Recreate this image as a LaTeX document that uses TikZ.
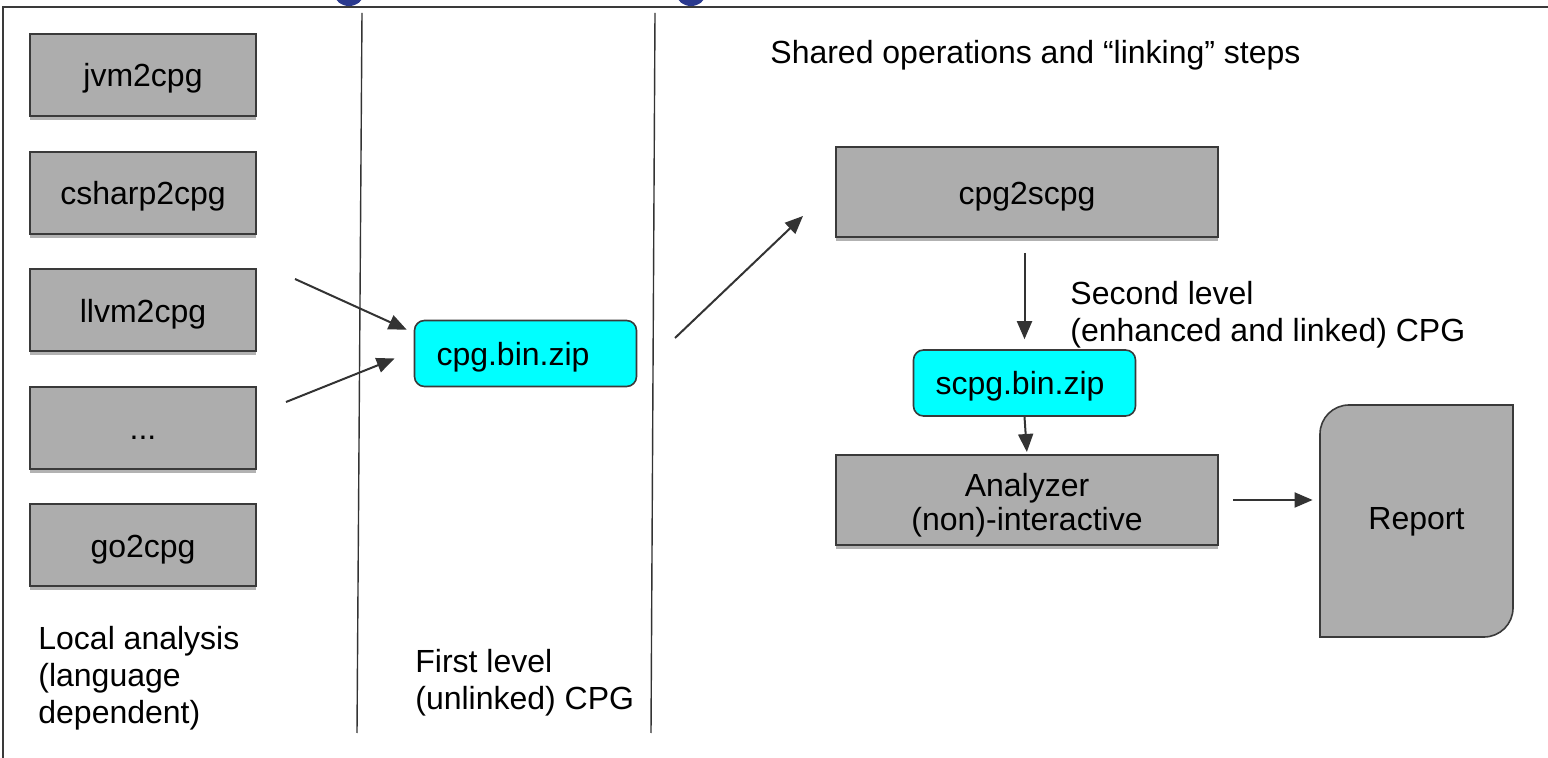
\documentclass[tikz,border=0pt]{standalone}
\usepackage{fontspec}
\setmainfont{Liberation Sans}
\usetikzlibrary{arrows.meta,shadows}
\definecolor{boxgray}{HTML}{ADADAD}
\definecolor{boxline}{HTML}{3A3A3A}
\definecolor{inkline}{HTML}{333333}
\definecolor{filecyan}{HTML}{00FFFF}
\definecolor{titleblue}{HTML}{2B3A8F}
\begin{document}
\begin{tikzpicture}[x=0.5pt,y=-0.5pt,
  font=\fontsize{16pt}{18.5pt}\selectfont,
  toolbox/.style={draw=boxline, fill=boxgray, line width=1pt,
    minimum width=113pt, minimum height=41pt, inner sep=0pt,
    text height=12pt, text depth=0pt,
    drop shadow={shadow xshift=0pt, shadow yshift=-2pt, fill=black, opacity=0.3}},
  widebox/.style={toolbox, minimum width=191pt, minimum height=45pt},
  filebox/.style={draw=boxline, fill=filecyan, line width=0.8pt, rounded corners=5pt,
    minimum height=33pt, inner xsep=11pt, inner ysep=0pt, text width=89pt, align=left,
    text height=12pt, text depth=0pt},
  label/.style={inner sep=0pt, anchor=west, align=left},
  flow/.style={draw=inkline, line width=1pt, -{Triangle[length=9pt,width=7.5pt]}},
  rule/.style={draw=inkline, line width=0.7pt}]
\useasboundingbox (0,0) rectangle (1548,758);

% fragments of the heading letters above the frame
\fill[titleblue] (349,-5) ellipse [x radius=14, y radius=11];
\fill[titleblue] (691,-5) ellipse [x radius=14, y radius=11];

% frame and column dividers
\draw[draw=boxline, line width=1pt] (3,762) -- (3,7) -- (1552,7);
\coordinate (d1t) at (362,13); \coordinate (d1b) at (357,733);
\coordinate (d2t) at (655,13); \coordinate (d2b) at (651,733);
\draw[rule] (d1t) -- (d1b);
\draw[rule] (d2t) -- (d2b);

% language frontends
\node[toolbox] (jvm)    at (143,75)    {jvm2cpg};
\node[toolbox] (csharp) at (143,193)   {csharp2cpg};
\node[toolbox] (llvm)   at (143,310.5) {llvm2cpg};
\node[toolbox] (more)   at (143,428)   {...};
\node[toolbox] (go)     at (143,545.5) {go2cpg};

\node[label] (local) at (38,678) {Local analysis\\(language\\dependent)};

% first level CPG
\node[filebox] (cpg) at (525.5,353.5) {cpg.bin.zip};
\node[label] (first) at (415,682.5) {First level\\(unlinked) CPG};

% shared stage
\node[label] (shared) at (770,55) {Shared operations and “linking” steps};
\node[widebox, text height=13pt] (c2s) at (1027,192) {cpg2scpg};
\node[filebox] (scpg) at (1024.5,383) {scpg.bin.zip};
\node[label] (second) at (1070,315) {Second level\\(enhanced and linked) CPG};
\node[widebox, text height=10pt, text depth=13pt] (analyzer) at (1027,500)
  {\def\arraystretch{0.9}\begin{tabular}[t]{@{}c@{}}Analyzer\\(non)-interactive\end{tabular}};

% report document
\draw[draw=boxline, fill=boxgray, line width=0.8pt]
  (1320,637) -- (1320,434) .. controls (1320,418) and (1333,405) .. (1349,405)
  -- (1513,405) -- (1513,608) .. controls (1513,624) and (1500,637) .. (1484,637) -- cycle;
\node[inner sep=0pt, minimum width=96.5pt, minimum height=116pt,
  text height=9pt, text depth=0pt] (report) at (1416.5,521) {Report};

% connectors
\coordinate (in1) at (295,279);
\coordinate (in2) at (286,402);
\coordinate (out1) at (675,338);
\draw[flow] (in1) -- ([shift={(-7,10)}]cpg.north west);
\draw[flow] (in2) -- ([shift={(-19,5)}]cpg.west);
\draw[flow] (out1) -- ([shift={(-32,24)}]c2s.west);
\draw[flow, shorten <=7.5pt, shorten >=5pt] (c2s.south -| scpg.north) -- (scpg.north);
\draw[flow, shorten >=1pt] (scpg.south) -- (analyzer.north);
\draw[flow, shorten <=7pt, shorten >=3.5pt] (analyzer.east) -- (analyzer.east -| report.west);
\end{tikzpicture}
\end{document}
